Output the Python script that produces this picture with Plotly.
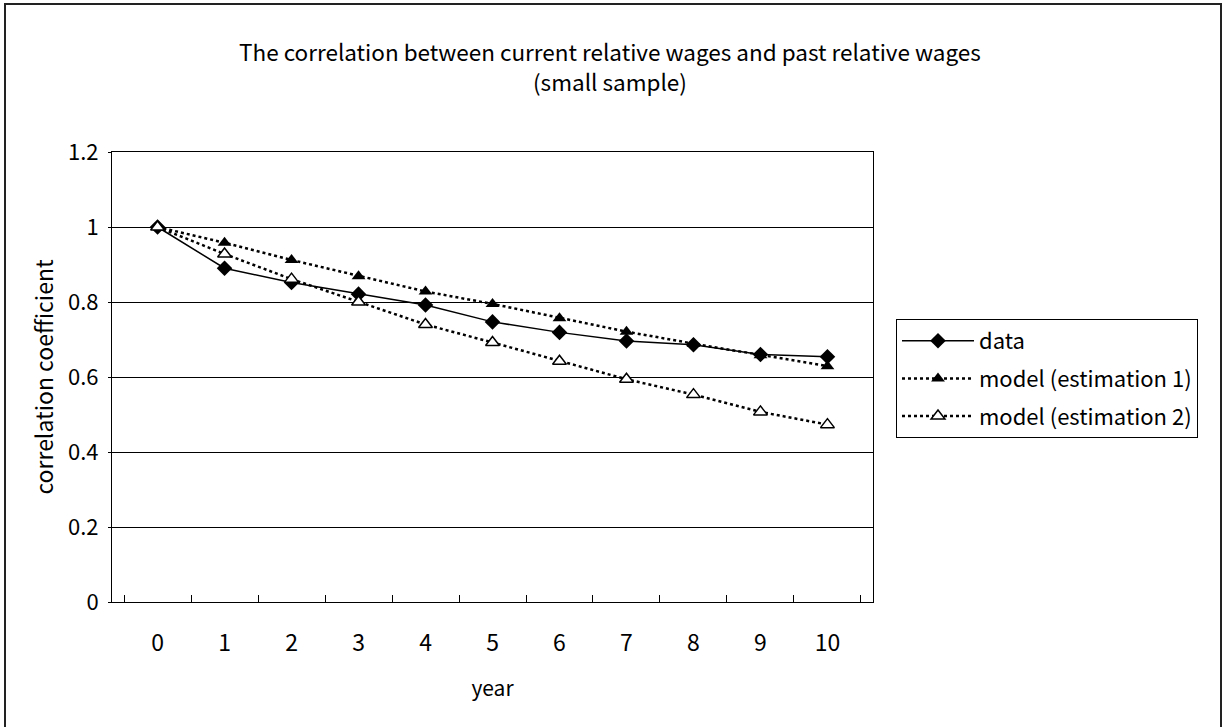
import plotly.graph_objects as go

years = ["0", "1", "2", "3", "4", "5", "6", "7", "8", "9", "10"]
data_vals = [1.0, 0.890, 0.852, 0.821, 0.792, 0.747, 0.719, 0.696, 0.686, 0.660, 0.654]
model1_vals = [1.0, 0.958, 0.912, 0.869, 0.828, 0.795, 0.757, 0.721, 0.689, 0.658, 0.629]
model2_vals = [1.0, 0.928, 0.861, 0.800, 0.740, 0.692, 0.642, 0.594, 0.553, 0.507, 0.473]
title_lines = ["The correlation between current relative wages and past relative wages",
               "(small sample)"]

FONT = "Noto Sans CJK JP, sans-serif"

L, R, T, B = 112, 873, 152, 602
W, H = 1225, 727
PW, PH = R - L, B - T

fig = go.Figure()
fig.add_trace(go.Scatter(
    x=years, y=data_vals, name="data", mode="lines+markers", legendgroup="a",
    line=dict(color="black", width=1.5),
    marker=dict(symbol="diamond", size=12, color="black"),
))
fig.add_trace(go.Scatter(
    x=years, y=model1_vals, name="model (estimation 1)", mode="lines+markers", legendgroup="b",
    line=dict(color="black", width=2.5, dash="dot"),
    marker=dict(symbol="triangle-up", size=12, color="black"),
))
fig.add_trace(go.Scatter(
    x=years, y=model2_vals, name="model (estimation 2)", mode="lines+markers", legendgroup="c",
    line=dict(color="black", width=2.5, dash="dot"),
    marker=dict(symbol="triangle-up", size=12, color="white",
                line=dict(color="black", width=1.5)),
))

fig.update_layout(
    width=W, height=H,
    margin=dict(l=L, r=W - R, t=T, b=H - B),
    paper_bgcolor="white", plot_bgcolor="white",
    font=dict(family=FONT, color="black", size=20),
    showlegend=True,
    legend=dict(
        x=(896 - L) / PW, xanchor="left", y=(B - 319) / PH, yanchor="top",
        bordercolor="black", borderwidth=1, bgcolor="white",
        font=dict(size=22, family=FONT), itemwidth=72,
        traceorder="grouped", tracegroupgap=6,
    ),
)

for i, (line, ypix) in enumerate(zip(title_lines, [51, 81])):
    fig.add_annotation(
        text=line, xref="paper", yref="paper",
        x=(610 - L) / PW, y=(B - ypix) / PH, xanchor="center", yanchor="middle",
        showarrow=False, font=dict(size=22.5, family=FONT),
    )

fig.update_xaxes(
    type="category", tickson="boundaries", ticks="inside", ticklen=7,
    tickcolor="black", showline=True, linecolor="black", linewidth=1,
    mirror=True, showgrid=False, ticklabelstandoff=20,
    title=dict(text="year", font=dict(size=21), standoff=24),
    tickfont=dict(size=23),
)
fig.update_yaxes(
    range=[0, 1.2], dtick=0.2, ticks="outside", ticklen=3, tickcolor="black",
    showline=True, linecolor="black", linewidth=1, mirror=True,
    showgrid=True, gridcolor="black", gridwidth=1, zeroline=False,
    ticklabelstandoff=5,
    title=dict(text="correlation coefficient", font=dict(size=23), standoff=8),
    tickfont=dict(size=22),
)

fig.add_shape(type="rect", xref="paper", yref="paper",
              x0=(5 - L) / PW, x1=(1221 - L) / PW,
              y0=(B - 735) / PH, y1=(B - 4) / PH,
              line=dict(color="#222222", width=2), layer="below")

fig.write_html("out.html", config={"displayModeBar": False},
               post_script="document.body.style.margin='0';document.body.style.overflow='hidden';")
